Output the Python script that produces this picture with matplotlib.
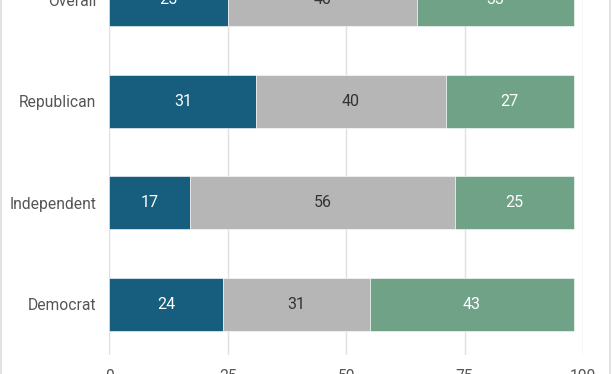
import matplotlib
matplotlib.use("Agg")
import matplotlib.pyplot as plt
from matplotlib.lines import Line2D

categories = ["Overall", "Republican", "Independent", "Democrat"]
series_a = [25, 31, 17, 24]
series_b = [40, 40, 56, 31]
series_c = [33, 27, 25, 43]
xticks = [0, 25, 50, 75, 100]

colors = ["#165d7e", "#b6b6b6", "#6fa287"]
text_colors = ["white", "#333333", "white"]

plt.rcParams['font.family'] = ['Roboto', 'DejaVu Sans']

fig = plt.figure(figsize=(6.12, 3.74), dpi=100)
ax = fig.add_axes([109.4/612, 1 - 355/374, (583 - 109.4)/612, (355 + 51)/374])

ypos = list(range(len(categories)))
left = [0]*len(categories)
for vals, c, tc in zip([series_a, series_b, series_c], colors, text_colors):
    ax.barh(ypos, vals, left=left, height=0.52, color=c, edgecolor="white", linewidth=0.4, zorder=3)
    for y, v, l in zip(ypos, vals, left):
        ax.text(l + v/2, y, str(v), ha="center", va="center", color=tc, fontsize=11.5, zorder=4)
    left = [l + v for l, v in zip(left, vals)]

ax.set_ylim(len(categories) - 0.5, -0.5)
ax.set_xlim(0, 100)
ax.set_yticks(ypos)
ax.set_yticklabels(categories, fontsize=11.25, color="#555555")
ax.set_xticks(xticks)
ax.set_xticklabels([str(t) for t in xticks], fontsize=11.25, color="#555555")
ax.tick_params(axis="y", length=0, pad=9.5)
ax.tick_params(axis="x", length=0, pad=10)
ax.grid(axis="x", color="#e0e0e0", linewidth=1, zorder=0)
for s in ax.spines.values():
    s.set_visible(False)

fig.add_artist(Line2D([1/612, 1/612], [0, 1], color="#dddddd", linewidth=1.2, transform=fig.transFigure))
fig.add_artist(Line2D([609.5/612, 609.5/612], [0, 1], color="#dddddd", linewidth=1.2, transform=fig.transFigure))

fig.savefig("out.png", dpi=100)
